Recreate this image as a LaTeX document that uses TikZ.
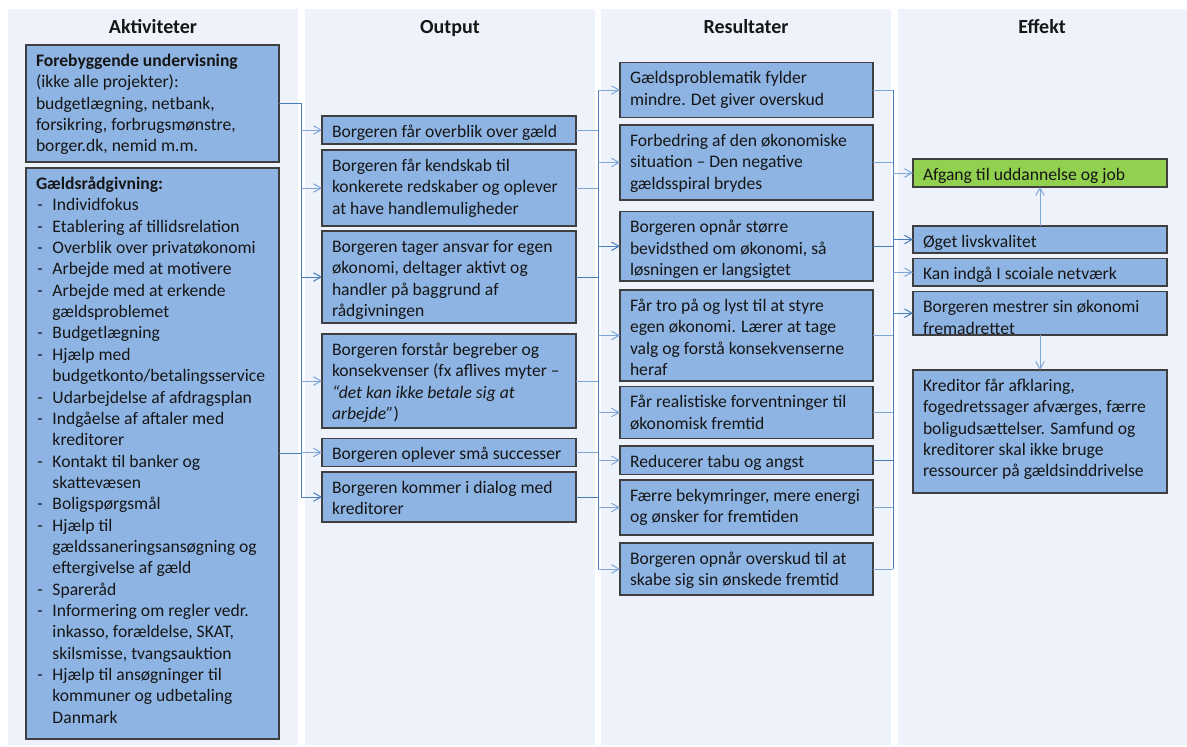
\documentclass[tikz,border=0pt]{standalone}
\usepackage{fontspec}
\setmainfont{Carlito}
\usetikzlibrary{arrows.meta,calc}

\definecolor{colbg}{HTML}{EEF3FB}
\definecolor{boxfill}{HTML}{8EB4E3}
\definecolor{boxline}{HTML}{3F3F3F}
\definecolor{linkdark}{HTML}{4A7EBB}
\definecolor{linklight}{HTML}{7FA6D8}
\definecolor{goalgreen}{HTML}{92D050}
\definecolor{ink}{HTML}{161616}

% one dash item with hanging indent; \\ breaks a line inside the item
\newcommand\itm[1]{\par\hangindent=16.5pt\hangafter=1\noindent\makebox[16.5pt][l]{\hspace{1.5pt}-}{\let\\\newline #1}}

% text box given by its corners: [style]{name}{x1}{y1}{x2}{y2}{text}
\newcommand\tbox[7][]{%
  \pgfmathsetmacro\bxw{#5-#3}%
  \pgfmathsetmacro\bxh{#6-#4}%
  \node[box,#1] (#2) at ({(#3+#5)/2},{(#4+#6)/2})
    {\parbox[c][\bxh pt][t]{\bxw pt}{\vspace*{6.55pt}\hspace*{10pt}\parbox[t]{\dimexpr\bxw pt-14pt\relax}{\raggedright\strut#7}}};%
}

\tikzset{
  column/.style={fill=colbg, draw=none},
  box/.style={draw=boxline, fill=boxfill, line width=1.2pt, inner sep=0pt, outer sep=0pt, text=ink},
  goal/.style={fill=goalgreen},
  head/.style={font=\fontsize{20}{24}\selectfont\bfseries, anchor=base, inner sep=0pt, text=ink},
  conn/.style={draw=linkdark, line width=1pt},
  connl/.style={draw=linklight, line width=1pt},
  arr/.style={draw=linklight, line width=1pt, -{Straight Barb[length=7.5pt,width=8.5pt]}},
  arrd/.style={arr, draw=linkdark},
}

\begin{document}
\begin{tikzpicture}[x=1pt, y=-1pt, font=\fontsize{17.6}{21.35}\selectfont]
\useasboundingbox (0,0) rectangle (1187,747);

% column panels
\fill[column] (8,9) rectangle (298,745);
\fill[column] (305,9) rectangle (595,745);
\fill[column] (601,9) rectangle (891,745);
\fill[column] (898,9) rectangle (1187,745);

% column titles
\node[head] (h1) at (153,33) {Aktiviteter};
\node[head] (h2) at (450,33) {Output};
\node[head] (h3) at (746,33) {Resultater};
\node[head] (h4) at (1042,33) {Effekt};

% activities
\tbox{a1}{26}{45}{279}{162}{\textbf{Forebyggende undervisning}\\(ikke alle projekter):\\budgetlægning, netbank,\\forsikring, forbrugsmønstre,\\borger.dk, nemid m.m.}
\tbox{a2}{26}{168}{279}{739}{\textbf{Gældsrådgivning:}%
\itm{Individfokus}%
\itm{Etablering af tillidsrelation}%
\itm{Overblik over privatøkonomi}%
\itm{Arbejde med at motivere}%
\itm{Arbejde med at erkende\\gældsproblemet}%
\itm{Budgetlægning}%
\itm{Hjælp med\\budgetkonto/betalingsservice}%
\itm{Udarbejdelse af afdragsplan}%
\itm{Indgåelse af aftaler med\\kreditorer}%
\itm{Kontakt til banker og\\skattevæsen}%
\itm{Boligspørgsmål}%
\itm{Hjælp til\\gældssaneringsansøgning og\\eftergivelse af gæld}%
\itm{Spareråd}%
\itm{Informering om regler vedr.\\inkasso, forældelse, SKAT,\\skilsmisse, tvangsauktion}%
\itm{Hjælp til ansøgninger til\\kommuner og udbetaling\\Danmark}}

% output
\tbox{b1}{322}{116}{576}{144}{Borgeren får overblik over gæld}
\tbox{b2}{322}{150}{576}{226}{Borgeren får kendskab til\\konkerete redskaber og oplever\\at have handlemuligheder}
\tbox{b3}{322}{231}{576}{323}{Borgeren tager ansvar for egen\\økonomi, deltager aktivt og\\handler på baggrund af\\rådgivningen}
\tbox{b4}{322}{334}{576}{428}{Borgeren forstår begreber og\\konsekvenser (fx aflives myter –\\\textit{“det kan ikke betale sig at\\arbejde”})}
\tbox{b5}{322}{438.5}{576}{466.5}{Borgeren oplever små successer}
\tbox{b6}{322}{472}{576}{522}{Borgeren kommer i dialog med\\kreditorer}

% results
\tbox{r1}{620}{62.5}{873}{117.5}{Gældsproblematik fylder\\mindre. Det giver overskud}
\tbox{r2}{620}{125}{873}{200}{Forbedring af den økonomiske\\situation – Den negative\\gældsspiral brydes}
\tbox{r3}{620}{211.5}{873}{281}{Borgeren opnår større\\bevidsthed om økonomi, så\\løsningen er langsigtet}
\tbox{r4}{620}{290}{873}{381}{Får tro på og lyst til at styre\\egen økonomi. Lærer at tage\\valg og forstå konsekvenserne\\heraf}
\tbox{r5}{620}{386.5}{873}{438.5}{Får realistiske forventninger til\\økonomisk fremtid}
\tbox{r6}{620}{446}{873}{474.5}{Reducerer tabu og angst}
\tbox{r7}{620}{480}{873}{535}{Færre bekymringer, mere energi\\og ønsker for fremtiden}
\tbox{r8}{620}{543}{873}{595}{Borgeren opnår overskud til at\\skabe sig sin ønskede fremtid}

% effects
\tbox[goal]{e1}{913}{159}{1167}{187}{Afgang til uddannelse og job}
\tbox{e2}{913}{226}{1167}{253}{Øget livskvalitet}
\tbox{e3}{913}{258.5}{1167}{286}{Kan indgå I scoiale netværk}
\tbox{e4}{913}{291.5}{1167}{335}{Borgeren mestrer sin økonomi\\fremadrettet}
\tbox{e5}{913}{370}{1167}{493}{Kreditor får afklaring,\\fogedretssager afværges, færre\\boligudsættelser. Samfund og\\kreditorer skal ikke bruge\\ressourcer på gældsinddrivelse}

% collecting lines between the columns
\coordinate (busA) at (301,0);
\coordinate (busB) at (598,0);
\coordinate (busC) at (893,0);

% activities -> output
\draw[conn] (a1.east) -- (a1.east -| busA) -- (b6.west -| busA);
\draw[conn] (a2.east) -- (a2.east -| busA);
\foreach \n in {b1,b2,b4,b5} \draw[arr] (\n.west -| busA) -- (\n.west);
\foreach \n in {b3,b6} \draw[arrd] (\n.west -| busA) -- (\n.west);

% output -> results
\foreach \n in {b1,b2,b4,b5} \draw[connl] (\n.east) -- (\n.east -| busB);
\foreach \n in {b3,b6} \draw[conn] (\n.east) -- (\n.east -| busB);
\draw[conn] (r1.west -| busB) -- (r8.west -| busB);
\foreach \n in {r1,r2,r4,r5,r6,r7,r8} \draw[arr] (\n.west -| busB) -- (\n.west);
\draw[arrd] (r3.west -| busB) -- (r3.west);

% results -> effects
\foreach \n in {r1,r2,r4,r5,r7,r8} \draw[connl] (\n.east) -- (\n.east -| busC);
\foreach \n in {r3,r6} \draw[conn] (\n.east) -- (\n.east -| busC);
\draw[conn] (r1.east -| busC) -- (r8.east -| busC);
\foreach \n in {e1,e3} \draw[arr] (\n.west -| busC) -- (\n.west);
\foreach \n in {e2,e4} \draw[arrd] (\n.west -| busC) -- (\n.west);

% links inside the effect column
\draw[arr] (e2.north) -- (e1.south);
\draw[arr] (e4.south) -- (e5.north);
\end{tikzpicture}
\end{document}
